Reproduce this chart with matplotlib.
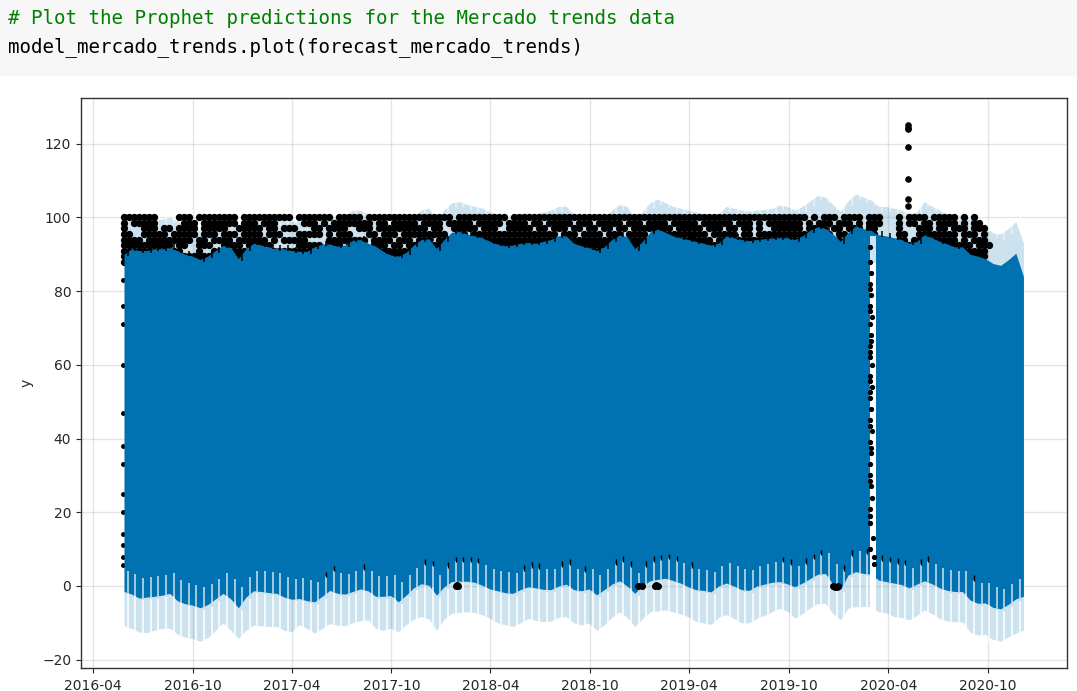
import numpy as np
import pandas as pd
import matplotlib
matplotlib.use("Agg")
import matplotlib.pyplot as plt

BLUE = "#0072B2"
LIGHT = "#CCE3F0"
INK = "#262626"

# forecast envelope, one value every 14 days from the first date
first_day = pd.Timestamp("2016-05-28")
yhat_top = [90, 91.5, 91, 91, 91.5, 91.5, 91.8, 91, 90, 89.5, 88.5, 89.5, 91, 92.4, 91.8, 88.8, 91.5, 93, 92.5, 92,
            91.5, 91.5, 91, 90.8, 90.8, 92, 92.8, 92.8, 92.2, 92.5, 93.8, 94, 93, 92.2, 90.8, 89.8, 89.5, 90.5, 92.5, 94,
            94.2, 91.5, 94, 96, 96.2, 95.5, 95, 94.5, 93.5, 92.8, 92.3, 92.5, 93, 93.2, 93, 93.5, 94, 95, 95, 93,
            92.3, 91.8, 91, 92, 94, 95.2, 94.8, 91.5, 93.5, 96, 96.8, 96, 95, 94.5, 94, 93.5, 93, 92.5, 93, 95,
            94.5, 94, 93.7, 94, 94.2, 94.4, 94.5, 94.5, 94, 95, 96.5, 97.5, 97, 95.5, 93.5, 96, 97.7, 97, 96.2, 95.3,
            95, 94.5, 94, 93, 93.5, 95.3, 94.5, 93.5, 92.8, 92, 92, 90, 89.5, 88.8, 87.5, 87, 88.5, 90.3, 84]
yhat_bottom = [-1.5, -2.2, -3.3, -3, -2.8, -2.5, -2, -4, -4.8, -5.2, -5.9, -5, -3.5, -2, -3.5, -5.9, -3, -1.3, -1.5, -1.8,
               -2, -3, -3.6, -3.4, -4, -4.3, -2.8, -1.2, -2, -2.2, -1.5, -0.8, -1.3, -2.8, -2.8, -2.6, -4.3, -2.5, -0.5, 0.6,
               0.2, -2.5, -0.2, 1.2, 1.3, 1.3, 1, 0.2, -0.8, -1.3, -1.8, -2, -1, -0.2, -0.5, -0.9, -1, 0, 0.5, -1,
               -1.3, -0.8, -2.4, -1, 0.5, 1.4, 0, -2, 0, 1.4, 1.8, 2.1, 1.5, 0.8, -0.2, -1, -1.2, -1.6, 0, 0.8,
               0, -1, -1.2, 0, 0.5, 1, 1.2, 0.6, -0.2, 0.8, 2, 3.2, 3.4, 0.5, -1, 3, 3.9, 3.4, 3.2, 1.6,
               1.2, 0.8, 0.4, -0.5, 0.5, 1.4, 0.6, -0.5, -1.2, -1.5, -1.5, -3.8, -4.7, -4.6, -5.8, -6.2, -5, -3.5, -2.8]
band_top = [98, 99.5, 99, 99, 99.5, 99.5, 100, 99, 98, 97.5, 96.5, 97.5, 99, 100.4, 100, 97, 99.5, 101, 100.5, 100,
            99.5, 99.5, 99, 99, 99, 100, 101, 101, 100, 100.5, 102, 102, 101, 100, 99, 98, 97.5, 98.5, 100.5, 102,
            102.5, 99.5, 102, 104, 104.3, 103.5, 103, 102.5, 101.5, 101, 100.3, 100.5, 101, 101.2, 101, 101.5, 102, 103, 103, 101,
            100.3, 100, 99, 100, 102, 103.5, 103, 99.5, 101.5, 104, 105, 104, 103, 102.5, 102, 101.5, 101, 100.5, 101, 103,
            102.5, 102, 101.7, 102, 102.2, 102.4, 103.4, 103, 102, 103, 104.5, 106, 105.5, 103.5, 101.6, 104.5, 106.4, 105.5, 104.7, 103,
            103, 102.5, 102, 101, 101.5, 104.3, 103, 102, 101, 100.7, 100.7, 99.5, 98.9, 97.5, 95.8, 95.5, 97, 98.9, 93]
band_bottom = [-10.8, -11.5, -12.5, -12.7, -12, -11.5, -11.5, -13, -13.9, -14.3, -15, -14, -12, -10, -12, -14.2, -12, -10.6, -10.8, -11,
               -11, -12, -12.4, -10.5, -11.5, -12.8, -11.5, -10.2, -10.6, -10.8, -10, -9.4, -9.2, -11.5, -12, -11.5, -12.4, -10.5, -9, -8.3,
               -9, -12, -9, -7.4, -7.2, -7, -7.2, -7.8, -8.8, -10, -10.5, -11, -10, -8.8, -9.3, -9.7, -9.5, -8.5, -8.3, -10,
               -10.6, -10, -12, -10.5, -8.5, -7, -8.5, -11, -9, -7, -6.8, -6.5, -7, -7.6, -8.3, -9.6, -10, -10.4, -8.6, -7.8,
               -8.8, -10, -10, -8.8, -8, -7, -6, -6.8, -8.7, -7.5, -6, -4.8, -4.7, -7.5, -9.2, -6, -5.6, -5.6, -5.6, -7,
               -7.3, -8.3, -8.6, -9.2, -8, -6.5, -7.5, -8.8, -9.5, -9.7, -9.8, -12.5, -13.3, -13.2, -14.5, -15, -13.8, -12.8, -12]

# shut-down stretch with no observations
gap_days = ["2020-02-27", "2020-03-09"]
gap_low, gap_mid, gap_high = -16, 87.6, 95

# observations near the top, one row per level, one mark per 9 days
dot_start = pd.Timestamp("2016-05-28")
dot_rows_levels = [100, 98.5, 97, 95.5, 94, 92.5, 91, 89.5, 88]
dots_100 = ("#######....###.########.##########.#######.#" "####.#################.##########.##########"
            "############################################" "#####.#.###.####.###...#.####.#####.#.#")
dots_98 = ("#.#####.....###.#######.###.###.....###.#.##" "######.##.#####.####.#####.#####.####.##.###"
           "##.###.#####.###.####.#####.######.###.#.###" "####.#.###.###.#.###...#.##.##.####.#.##")
dots_97 = ("#...###.##.####.#####..#####.##.###...##.###" "#..###.##########.##..#####.###..#####.##.##"
           "#.##.##.##.##.########.#####.###.##.##.#..##" "####.####.##.###.##....#...###.##.###.###")
dots_95 = ("##..#####.#####.###.###.####.###...#####.#.#" "##...##.###.#########..##.#################."
           "###.####.###.####.###########.#####.##.#####" "######.###.##.###.#....##..########.###.#")
dots_94 = ("####.#########.##.####.######.#.#####....###" "#####.####.###.###.#########################"
           "##############################.#############" "######.#####.##.##.#...##.#########.#.###")
dots_92 = ("##########.##..###..####.#####.....#####.###" ".####.###.##.##.####.#######################"
           "############################################" "#################...##################.###")
dots_91 = ("############...#..##########################" "############################################"
           "############################################" "#################...#####################")
dots_89 = ("############################################" "############################################"
           "############################################" "#################...#####################")
dots_88 = ("############################################" "############################################"
           "############################################" "#################...")

# single observations
left_dates = ["2016-05-27"] * 13
left_y = [5.7, 8, 11, 14, 20, 25, 33, 38, 47, 60, 71, 76, 83]
gap_dates = ["2020-02-27", "2020-02-28", "2020-02-29", "2020-02-27", "2020-02-29", "2020-02-28", "2020-03-01", "2020-02-27",
             "2020-02-29", "2020-02-28", "2020-02-27", "2020-03-01", "2020-02-28", "2020-03-01", "2020-02-27", "2020-02-29",
             "2020-02-28", "2020-03-01", "2020-02-27", "2020-02-29", "2020-02-28", "2020-02-27", "2020-02-29", "2020-03-01",
             "2020-02-27", "2020-03-05", "2020-03-06", "2020-02-27", "2020-03-04", "2020-02-27", "2020-02-28", "2020-02-27",
             "2020-02-29", "2020-02-27", "2020-02-28", "2020-02-27", "2020-02-28", "2020-02-29", "2020-02-27", "2020-02-28"]
gap_y = [92, 88, 85, 82, 79, 76, 73, 71, 68, 65, 62, 60, 57, 54, 51, 48, 45, 42, 39, 36, 33, 30, 27, 24, 21, 6, 8, 10, 13, 17,
         80.5, 74.5, 66.5, 63.5, 55.5, 52.5, 43.5, 37.5, 28.5, 19]
outlier_dates = ["2020-05-07"] * 7
outlier_y = [125, 124.3, 124, 119, 110.4, 105, 103]
zero_dates = ["2018-01-27", "2018-01-29", "2018-01-31", "2018-12-28", "2019-01-04", "2019-01-28", "2019-01-31", "2019-02-03",
              "2019-12-22", "2019-12-25", "2019-12-28", "2019-12-31"]
zero_y = [0, 0.4, 0, 0, 0, 0, 0.3, 0, 0, -0.3, -0.3, 0]

# low observations showing at the top of the notches, by notch number
black_notches = [26, 27, 31, 39, 40, 42, 43, 44, 45, 46, 52, 53, 54, 57, 58, 60, 64, 65, 66, 68, 69, 70, 71, 72, 74,
                 86, 87, 89, 90, 91, 94, 95, 97, 99, 100, 101, 102, 104, 105, 111]
notch_depth = 5.5

x_ticks = ["2016-04-01", "2016-10-01", "2017-04-01", "2017-10-01", "2018-04-01", "2018-10-01", "2019-04-01", "2019-10-01",
           "2020-04-01", "2020-10-01"]
x_labels = ["2016-04", "2016-10", "2017-04", "2017-10", "2018-04", "2018-10", "2019-04", "2019-10", "2020-04", "2020-10"]
y_ticks = [-20, 0, 20, 40, 60, 80, 100, 120]

code_comment = "# Plot the Prophet predictions for the Mercado trends data"
code_call = "model_mercado_trends.plot(forecast_mercado_trends)"

fig = plt.figure(figsize=(10.77, 6.91), dpi=100)
fig.patches.append(plt.Rectangle((0, 1 - 75 / 691), 1, 75 / 691, transform=fig.transFigure, color="#f7f7f7"))
fig.text(8 / 1077, 1 - 18 / 691, code_comment, color="#008000", family="DejaVu Sans Mono", fontsize=13.8, va="center")
fig.text(8 / 1077, 1 - 47 / 691, code_call, color="black", family="DejaVu Sans Mono", fontsize=13.8, va="center")

ax = fig.add_axes([81 / 1077, 23 / 691, 986 / 1077, 570 / 691])

days = first_day + pd.to_timedelta(np.arange(len(yhat_top)) * 14, unit="D")
notch_days = days[:-1] + pd.Timedelta(days=7)
top = np.array(yhat_top)
bottom = np.array(yhat_bottom)
low_band = np.array(band_bottom)
high_band = np.array(band_top)

ax.fill_between(days, band_bottom, band_top, color=BLUE, alpha=0.2, lw=0, zorder=2)
# streaks along the top of the band
ax.vlines(notch_days, high_band[:-1] - 1.5, high_band[:-1] + 1.5, color="white", lw=1.1, alpha=0.6, zorder=2)

rows = [dots_100, dots_98, dots_97, dots_95, dots_94, dots_92, dots_91, dots_89, dots_88]
for level, row in zip(dot_rows_levels, rows):
    cols = np.array([i for i, c in enumerate(row) if c == "#"])
    xs = dot_start + pd.to_timedelta(cols * 9.18, unit="D")
    ax.plot(xs, [level] * len(cols), "k.", ms=8.5, zorder=3)
ax.plot(pd.to_datetime(left_dates), left_y, "k.", ms=5, zorder=3)

ax.fill_between(days, bottom, top, color=BLUE, lw=0, zorder=4)
# rough top edge of the forecast, black where the observations sit
ax.vlines(notch_days[:111], top[:111] - 0.6, top[:111] + 0.9, color="black", lw=1.1, zorder=4)

# the narrow notches along the lower edge
ax.vlines(notch_days, low_band[:-1] - 2, bottom[:-1] - 0.6, color="white", lw=1.1, zorder=5)
ax.vlines(notch_days, bottom[:-1] - 0.6, bottom[:-1] + notch_depth, color=LIGHT, lw=1.1, zorder=5)
ax.vlines(notch_days[black_notches], bottom[black_notches] + notch_depth - 0.3, bottom[black_notches] + notch_depth + 1.2,
          color="black", lw=1, zorder=5)

gap_x = pd.to_datetime(gap_days)
ax.fill_between(gap_x, gap_low, gap_mid, color="white", lw=0, zorder=6)
ax.fill_between(gap_x, gap_mid, gap_high, color=LIGHT, lw=0, zorder=6)
ax.plot(gap_x, [gap_high + 1.3, gap_high + 0.3], color=BLUE, lw=1, zorder=6)
ax.plot(pd.to_datetime(gap_dates), gap_y, "k.", ms=5.5, zorder=7)
ax.plot(pd.to_datetime(outlier_dates), outlier_y, "k.", ms=7.5, zorder=7)
ax.plot(pd.to_datetime(zero_dates), zero_y, "k.", ms=8, zorder=7)

ax.set_xlim(pd.Timestamp("2016-03-10"), pd.Timestamp("2021-02-23"))
ax.set_ylim(-22.25, 132.4)
ax.set_xticks(pd.to_datetime(x_ticks))
ax.set_xticklabels(x_labels)
ax.set_yticks(y_ticks)
ax.grid(True, which="major", c="gray", ls="-", lw=1, alpha=0.2)
ax.set_axisbelow(True)
ax.set_ylabel("y", color=INK, labelpad=6.5)
ax.tick_params(colors=INK, labelsize=10)
ax.tick_params(axis="x", pad=4.5)
for spine in ax.spines.values():
    spine.set_color("#333333")
    spine.set_linewidth(1)

fig.savefig("out.png", dpi=100)
